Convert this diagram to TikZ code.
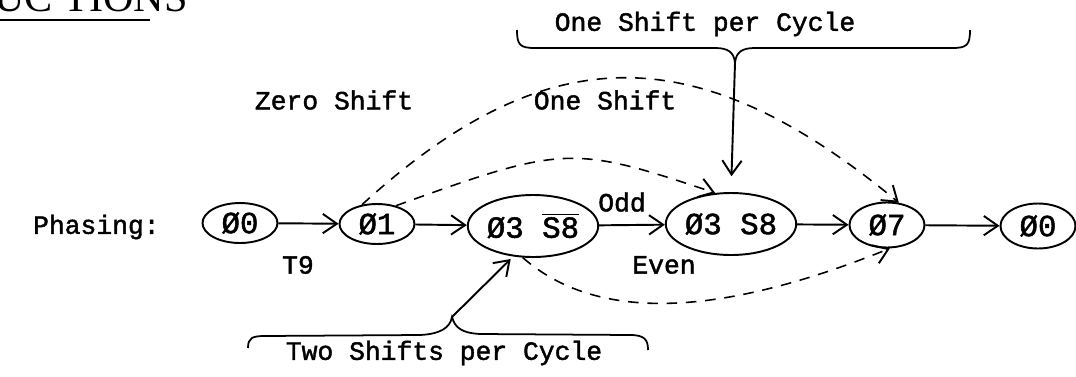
\documentclass[tikz,border=0pt]{standalone}
\usepackage{fontspec}
\setmainfont{Liberation Serif}
\newfontfamily\tw[FakeBold=1.6]{Liberation Mono}
\usetikzlibrary{arrows.meta,shapes.geometric}
\begin{document}
\begin{tikzpicture}[x=0.02cm,y=-0.02cm,
  st/.style={draw,ellipse,line width=1.1pt,inner sep=0pt,font=\tw\fontsize{17.5}{20}\selectfont},
  small/.style={minimum width=1.5cm,minimum height=0.8cm},
  wide/.style={minimum width=2.08cm,minimum height=1.24cm},
  lbl/.style={font=\tw\fontsize{15}{18}\selectfont,inner sep=0pt},
  tip/.style={-{Straight Barb[length=8pt,width=11pt,line width=1.1pt]}},
  sarrow/.style={line width=1.1pt,tip},
  darrow/.style={line width=0.9pt,dash pattern=on 6pt off 5pt,tip},
  brace/.style={line width=1pt}]
\useasboundingbox (0,0) rectangle (1076,376);
% header
\node[font=\fontsize{24}{28}\selectfont,anchor=base west,inner sep=0pt] (hd) at (-6,11) {UC TIONS};
\draw[line width=1pt] (0,20) -- (150,20);
% states
\node[lbl,anchor=east] (ph) at (160,227) {Phasing:};
\node[st,small] (a0) at (240,223) {Ø0};
\node[st,small] (a1) at (377,224) {Ø1};
\node[st,wide] (a2) at (533,226) {Ø3 $\overline{\mbox{S8}}$};
\node[st,wide] (a3) at (731,224) {Ø3 S8};
\node[st,small,minimum height=0.9cm] (a4) at (887,225) {Ø7};
\node[st,small,minimum height=0.9cm] (a5) at (1038,226) {Ø0};
% transitions
\draw[sarrow] (a0) -- (a1);
\draw[sarrow] (a1) -- (a2);
\draw[sarrow] (a2) -- (a3);
\draw[sarrow] (a3) -- (a4);
\draw[sarrow] (a4) -- (a5);
% labels
\node[lbl] (t9) at (298,265) {T9};
\node[lbl] (odd) at (622,202) {Odd};
\node[lbl] (even) at (664,265) {Even};
\node[lbl] (zs) at (334,100) {Zero Shift};
\node[lbl] (os) at (605,100) {One Shift};
\node[lbl] (ospc) at (705,24) {One Shift per Cycle};
\node[lbl] (tspc) at (444,353) {Two Shifts per Cycle};
% dashed paths
\draw[darrow] (a1.128) .. controls (547,36) and (697,36) .. (a4.62);
\draw[darrow] (a1.44) .. controls (564,145) and (572,145) .. (a3.117);
\draw[darrow] (a2.252) .. controls (594,320) and (712,320) .. (a4.277);
% top brace
\coordinate (tb) at (735,63);
\draw[brace] (517,30) .. controls (517,45) and (520,48) .. (535,48) -- (715,48)
  .. controls (728,48) and (734,52) .. (tb)
  .. controls (736,52) and (742,48) .. (755,48) -- (952,48)
  .. controls (967,48) and (970,45) .. (970,30);
\draw[sarrow,shorten >=9pt] (tb) -- (a3.north);
% bottom brace
\coordinate (bb) at (452,317);
\draw[brace] (248,348) .. controls (248,338) and (252,336) .. (265,336) -- (420,335)
  .. controls (440,334) and (450,328) .. (bb)
  .. controls (455,328) and (462,333) .. (480,334) -- (630,335)
  .. controls (645,335) and (648,340) .. (648,350);
\draw[sarrow,shorten >=2pt] (bb) -- (a2.237);
\end{tikzpicture}
\end{document}
